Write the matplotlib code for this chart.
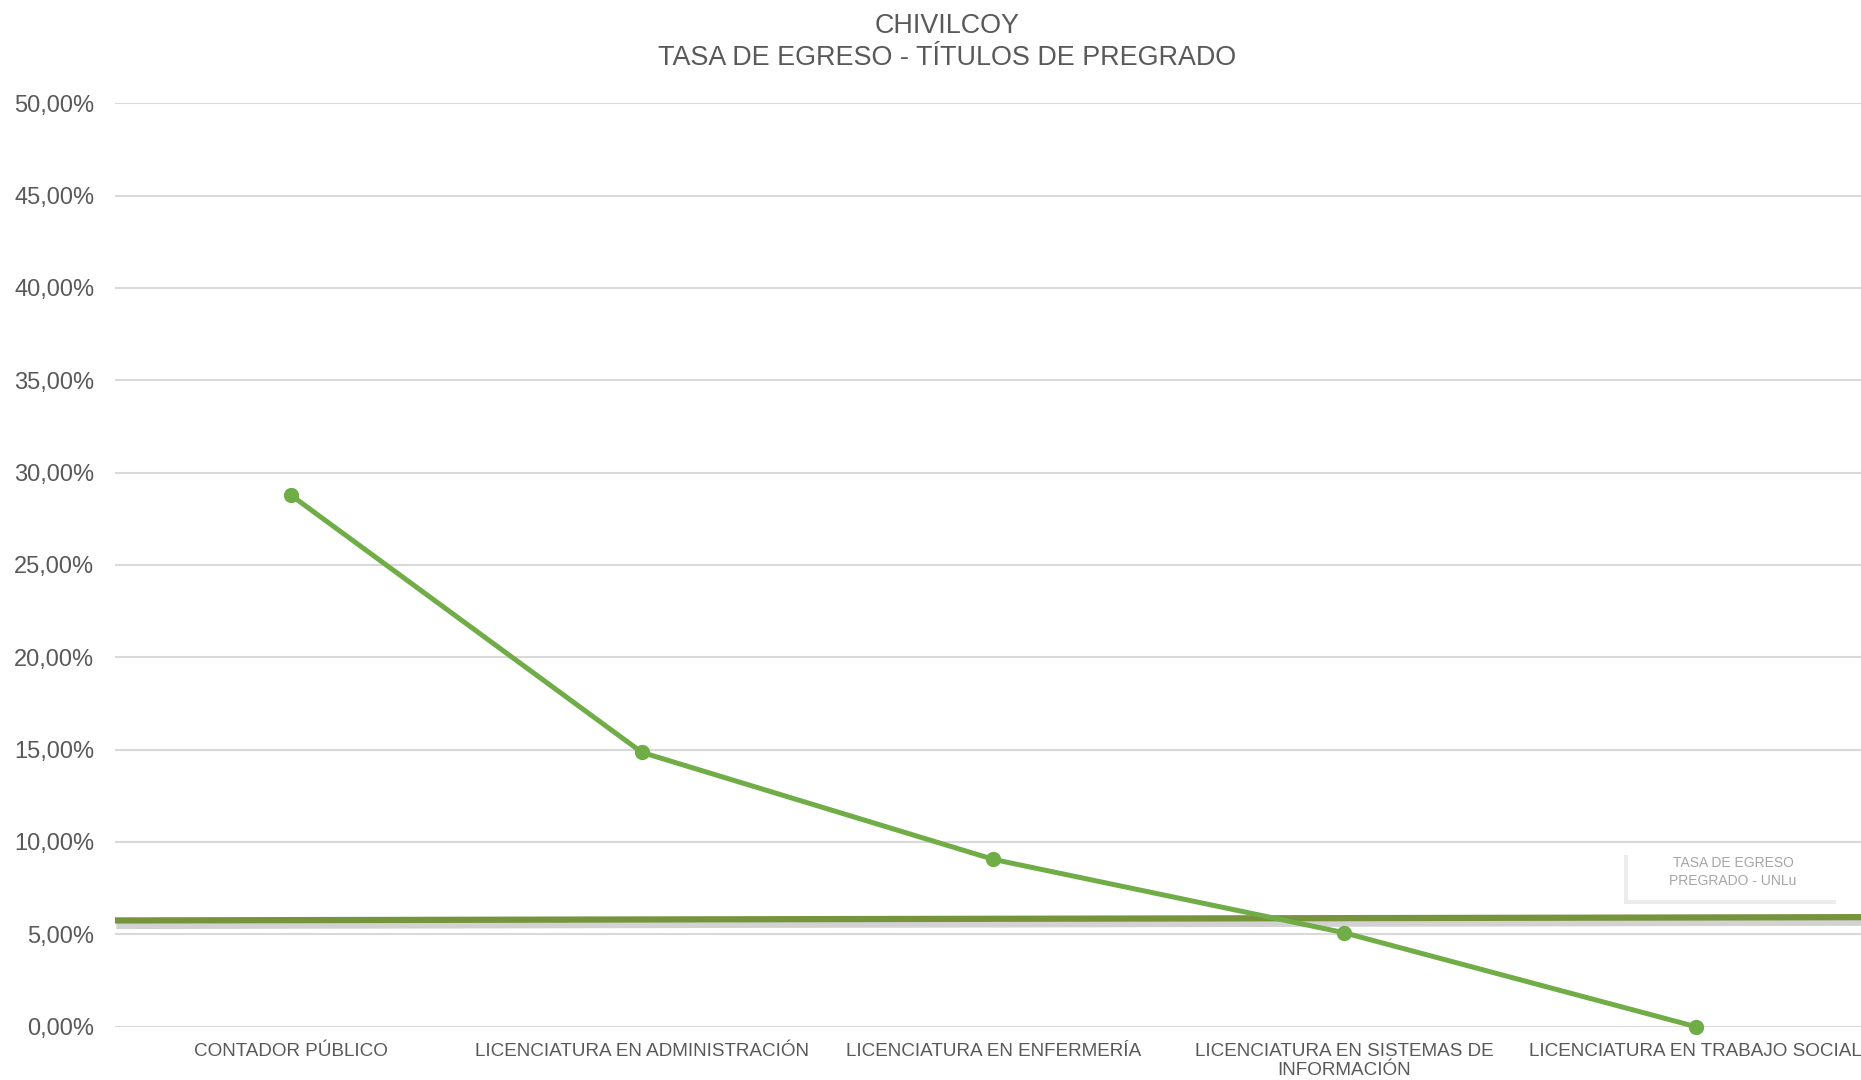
import matplotlib.pyplot as plt
import matplotlib.patheffects as pe
from matplotlib.patches import Rectangle
import numpy as np

plt.rcParams['font.family'] = ['Liberation Sans', 'DejaVu Sans']

carreras = ["CONTADOR PÚBLICO",
            "LICENCIATURA EN ADMINISTRACIÓN",
            "LICENCIATURA EN ENFERMERÍA",
            "LICENCIATURA EN SISTEMAS DE\nINFORMACIÓN",
            "LICENCIATURA EN TRABAJO SOCIAL"]
tasa_chivilcoy = [0.2879, 0.1485, 0.0906, 0.0508, 0.0]
# referencia UNLu (extremos de la recta)
ref_x = [-0.5, 4.5]
ref_tasa = [0.0575, 0.0593]
ref_label = "TASA DE EGRESO\nPREGRADO - UNLu"

fig = plt.figure(figsize=(18.61, 10.8), dpi=100)
ax = fig.add_axes([0.0618, 0.0494, 0.9438, 0.855])

x = np.arange(len(carreras))

ax.set_yticks(np.arange(0, 0.501, 0.05))
ax.grid(axis='y', color='#D9D9D9', linewidth=1.5)
ax.set_axisbelow(True)

ax.plot(ref_x, ref_tasa, color='#77933C', linewidth=4.5, solid_capstyle='butt',
        path_effects=[pe.SimpleLineShadow(offset=(1, -4), shadow_color='#808080', alpha=0.35),
                      pe.Normal()], zorder=3)

ax.plot(x, tasa_chivilcoy, color='#70AD47', linewidth=3.6, marker='o',
        markersize=10, zorder=4, clip_on=False)

# cuadro de la etiqueta de referencia
caja = Rectangle((3.807, 0.0686), 0.603, 0.0265, facecolor='white', edgecolor='none',
                 zorder=5,
                 path_effects=[pe.withSimplePatchShadow(offset=(-3, -3),
                                                        shadow_rgbFace='#808080',
                                                        alpha=0.15)])
ax.add_patch(caja)
ax.text(4.106, 0.0838, ref_label, ha='center', va='center', fontsize=10,
        color='#A6A6A6', linespacing=1.3, zorder=6)

ax.set_xlim(-0.5, 4.5)
ax.set_ylim(0, 0.5)
ax.set_xticks(x)
ax.set_xticklabels(carreras, fontsize=13.6, color='#595959', linespacing=1.1)
ax.set_yticklabels([f"{v:.2f}".replace('.', ',') + "%" for v in np.arange(0, 50.01, 5)],
                   fontsize=17, color='#595959')
ax.tick_params(axis='both', length=0)
ax.tick_params(axis='y', pad=15)
ax.tick_params(axis='x', pad=12)
for s in ax.spines.values():
    s.set_visible(False)

fig.text(0.509, 0.988, "CHIVILCOY\nTASA DE EGRESO - TÍTULOS DE PREGRADO",
         ha='center', va='top', fontsize=19.4, color='#595959', linespacing=1.3)

fig.savefig("out.png", dpi=100)
